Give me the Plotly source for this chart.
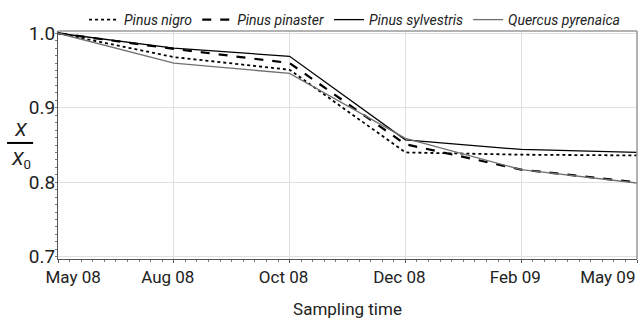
import plotly.graph_objects as go

dates = ["May 08", "Aug 08", "Oct 08", "Dec 08", "Feb 09", "May 09"]
pinus_nigro = [1.0, 0.968, 0.951, 0.840, 0.837, 0.836]
pinus_pinaster = [1.0, 0.979, 0.960, 0.851, 0.817, 0.800]
pinus_sylvestris = [1.0, 0.980, 0.969, 0.857, 0.844, 0.840]
quercus_pyrenaica = [1.0, 0.960, 0.946, 0.859, 0.817, 0.799]
y_ticks = [0.7, 0.8, 0.9, 1.0]

FONT = "Roboto, sans-serif"
NBSP = "\u00a0"
xpos = list(range(len(dates)))
# pad first/last labels so they stay inside the figure, like the reference
tick_text = [NBSP * 10 + dates[0]] + dates[1:-1] + [dates[-1] + NBSP * 11]

fig = go.Figure()
fig.add_trace(go.Scatter(x=xpos, y=pinus_nigro, mode="lines", name="<i>Pinus nigro</i>",
                         line=dict(color="black", width=1.8, dash="dot")))
fig.add_trace(go.Scatter(x=xpos, y=pinus_pinaster, mode="lines", name="<i>Pinus pinaster</i>",
                         line=dict(color="black", width=2.2, dash="dash")))
fig.add_trace(go.Scatter(x=xpos, y=pinus_sylvestris, mode="lines", name="<i>Pinus sylvestris</i>",
                         line=dict(color="black", width=1.3)))
fig.add_trace(go.Scatter(x=xpos, y=quercus_pyrenaica, mode="lines", name="<i>Quercus pyrenaica</i>",
                         line=dict(color="#707070", width=1.3)))

fig.update_layout(
    width=641, height=320,
    margin=dict(l=58, r=4, t=31, b=61, autoexpand=False),
    paper_bgcolor="white", plot_bgcolor="white",
    font=dict(family=FONT, color="#222222"),
    showlegend=True,
    legend=dict(orientation="h", x=0.045, y=0.978, xanchor="left", yanchor="bottom",
                font=dict(size=14, family=FONT), itemwidth=30, tracegroupgap=0,
                bgcolor="rgba(0,0,0,0)"),
    xaxis=dict(range=[0, len(dates) - 1], tickvals=xpos, ticktext=tick_text,
               showgrid=True, gridcolor="#e0e0e0", zeroline=False,
               showline=True, linecolor="#555555",
               ticks="outside", ticklen=3, tickcolor="#555555",
               ticklabelshift=-6, ticklabelstandoff=0, ticklabeloverflow="allow",
               tickfont=dict(size=17, family=FONT),
               minor=dict(ticks="outside", ticklen=2, tickcolor="#777777", dtick=0.1, showgrid=False),
               title=dict(text="Sampling time", font=dict(size=17, family=FONT), standoff=16)),
    yaxis=dict(range=[0.697, 1.003], tickvals=y_ticks, ticktext=[f"{v:.1f}" for v in y_ticks],
               showgrid=True, gridcolor="#e0e0e0", zeroline=False,
               showline=True, linecolor="#555555",
               ticks="", tickfont=dict(size=19, family=FONT), ticklabelstandoff=-2,
               minor=dict(ticks="outside", ticklen=2, tickcolor="#777777", dtick=0.01, showgrid=False)),
)
# top and right frame
fig.add_shape(type="line", xref="paper", yref="paper", x0=0, x1=1, y0=1, y1=1,
              line=dict(color="#999999", width=1.5))
fig.add_shape(type="line", xref="paper", yref="paper", x0=1, x1=1, y0=0, y1=1,
              line=dict(color="#999999", width=1.5))

# y-axis title as fraction X / X0
fig.add_annotation(xref="paper", yref="paper", x=-0.064, y=0.51, text="<i>X</i>",
                   showarrow=False, font=dict(size=19, family=FONT), xanchor="center", yanchor="bottom")
fig.add_annotation(xref="paper", yref="paper", x=-0.064, y=0.498, text="<i>X</i><sub>0</sub>",
                   showarrow=False, font=dict(size=19, family=FONT), xanchor="center", yanchor="top")
fig.add_shape(type="line", xref="paper", yref="paper", x0=-0.088, x1=-0.043, y0=0.509, y1=0.509,
              line=dict(color="black", width=2))

fig.write_html("out.html", config={"displayModeBar": False},
               post_script="document.body.style.margin='0';")
